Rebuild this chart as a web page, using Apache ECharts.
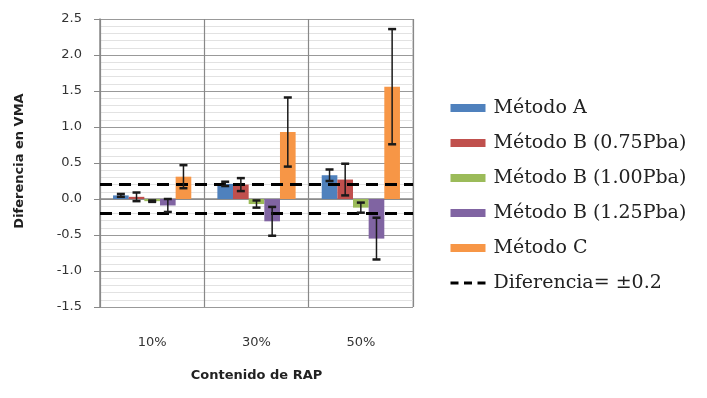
<!DOCTYPE html>
<html>
<head>
<meta charset="utf-8">
<script src="https://cdn.jsdelivr.net/npm/echarts@6/dist/echarts.min.js"></script>
<style>html,body{margin:0;padding:0;background:#fff}#c{width:707px;height:398px}</style>
</head>
<body>
<div id="c"></div>
<script>
var categories = ['10%', '30%', '50%'];
var seriesNames = ['Método A', 'Método B (0.75Pba)', 'Método B (1.00Pba)', 'Método B (1.25Pba)', 'Método C'];
var colors = ['#4F81BD', '#C0504D', '#9BBB59', '#8064A2', '#F79646'];
var metodoA = [0.05, 0.21, 0.33];
var metodoB075 = [0.03, 0.20, 0.27];
var metodoB100 = [-0.03, -0.07, -0.12];
var metodoB125 = [-0.09, -0.31, -0.55];
var metodoC = [0.31, 0.93, 1.56];
var errA = [0.02, 0.03, 0.08];
var errB075 = [0.06, 0.09, 0.22];
var errB100 = [0.01, 0.05, 0.07];
var errB125 = [0.09, 0.20, 0.29];
var errC = [0.16, 0.48, 0.80];
var limitLabel = 'Diferencia= ±0.2';
var limitValue = 0.2;
var yTicks = {min: -1.5, max: 2.5, interval: 0.5};

var values = [metodoA, metodoB075, metodoB100, metodoB125, metodoC];
var errs = [errA, errB075, errB100, errB125, errC];

var series = [];
values.forEach(function (v, i) {
  series.push({
    name: seriesNames[i], type: 'bar', data: v,
    barGap: '0%', barCategoryGap: '25%',
    itemStyle: {color: colors[i]}, silent: true
  });
});
var errData = [];
values.forEach(function (v, i) {
  v.forEach(function (val, c) { errData.push([c, val, errs[i][c], i]); });
});
series.push({
  type: 'custom', z: 5, silent: true,
  encode: {x: 0, y: 1},
  data: errData,
  renderItem: function (params, api) {
    var c = api.value(0), val = api.value(1), e = api.value(2), m = api.value(3);
    var band = api.size([1, 0])[0];
    var bw = band * 0.75 / 5;
    var center = api.coord([c, val]);
    var x = center[0] + (m - 2) * bw;
    var yt = api.coord([c, val + e])[1];
    var yb = api.coord([c, val - e])[1];
    var cap = 4;
    return {type: 'group', children: [
      {type: 'line', shape: {x1: x, y1: yt, x2: x, y2: yb}, style: {stroke: '#1a1a1a', lineWidth: 1.5}},
      {type: 'line', shape: {x1: x - cap, y1: yt, x2: x + cap, y2: yt}, style: {stroke: '#1a1a1a', lineWidth: 2.5}},
      {type: 'line', shape: {x1: x - cap, y1: yb, x2: x + cap, y2: yb}, style: {stroke: '#1a1a1a', lineWidth: 2.5}}
    ]};
  }
});
series.push({
  name: limitLabel, type: 'line', data: [], symbol: 'none', showSymbol: false,
  lineStyle: {color: '#000', width: 3, type: [12, 7]},
  itemStyle: {color: '#000'},
  markLine: {
    silent: true, symbol: 'none', label: {show: false},
    lineStyle: {color: '#000', width: 3, type: [12, 7]},
    data: [{yAxis: limitValue}, {yAxis: -limitValue}]
  }
});

var legendData = seriesNames.map(function (n) { return {name: n, icon: 'rect'}; });
legendData.push({name: limitLabel, itemStyle: {opacity: 0}, lineStyle: {color: '#000', width: 3, type: [8, 5.5]}});

var chart = echarts.init(document.getElementById('c'), null, {renderer: 'canvas'});
chart.setOption({
  animation: false,
  backgroundColor: '#fff',
  grid: {left: 100, right: 294, top: 19, bottom: 91, show: false},
  legend: {
    orient: 'vertical', left: 449, top: 98, padding: 0, itemWidth: 35, itemHeight: 8, itemGap: 15,
    selectedMode: false,
    textStyle: {fontFamily: 'DejaVu Serif', fontSize: 19, lineHeight: 20, color: '#222', padding: [0, 0, 0, 3]},
    data: legendData
  },
  xAxis: {
    type: 'category', data: categories,
    axisLine: {show: true, lineStyle: {color: '#888', width: 1.5}},
    axisTick: {show: true, length: 4, lineStyle: {color: '#888'}},
    splitLine: {show: true, lineStyle: {color: '#888', width: 1.2}},
    axisLabel: {margin: 29, fontFamily: 'DejaVu Sans', fontSize: 13, color: '#333'},
    name: 'Contenido de RAP', nameLocation: 'middle', nameGap: 62,
    nameTextStyle: {fontFamily: 'DejaVu Sans', fontWeight: 'bold', fontSize: 13, color: '#222'}
  },
  yAxis: {
    type: 'value', min: yTicks.min, max: yTicks.max, interval: yTicks.interval,
    axisLine: {show: true, lineStyle: {color: '#888', width: 1.5}},
    axisTick: {show: true, length: 6, lineStyle: {color: '#888'}},
    minorTick: {show: false, splitNumber: 5},
    splitLine: {show: true, lineStyle: {color: '#999', width: 1.2}},
    minorSplitLine: {show: true, lineStyle: {color: '#e2e2e2', width: 1}},
    axisLabel: {margin: 18, fontFamily: 'DejaVu Sans', fontSize: 13, color: '#333',
      formatter: function (v) { return v.toFixed(1); }}
  },
  graphic: [
    {type: 'rect', shape: {x: 413, y: 19, width: 0, height: 288}, style: {stroke: '#bbb', lineWidth: 1.2, fill: null}},
    {type: 'text', x: 20, y: 161, rotation: Math.PI / 2,
      style: {text: 'Diferencia en VMA', fontFamily: 'DejaVu Sans', fontWeight: 'bold', fontSize: 13, fill: '#222',
        textAlign: 'center', textVerticalAlign: 'middle'}}
  ],
  series: series
});
</script>
</body>
</html>
